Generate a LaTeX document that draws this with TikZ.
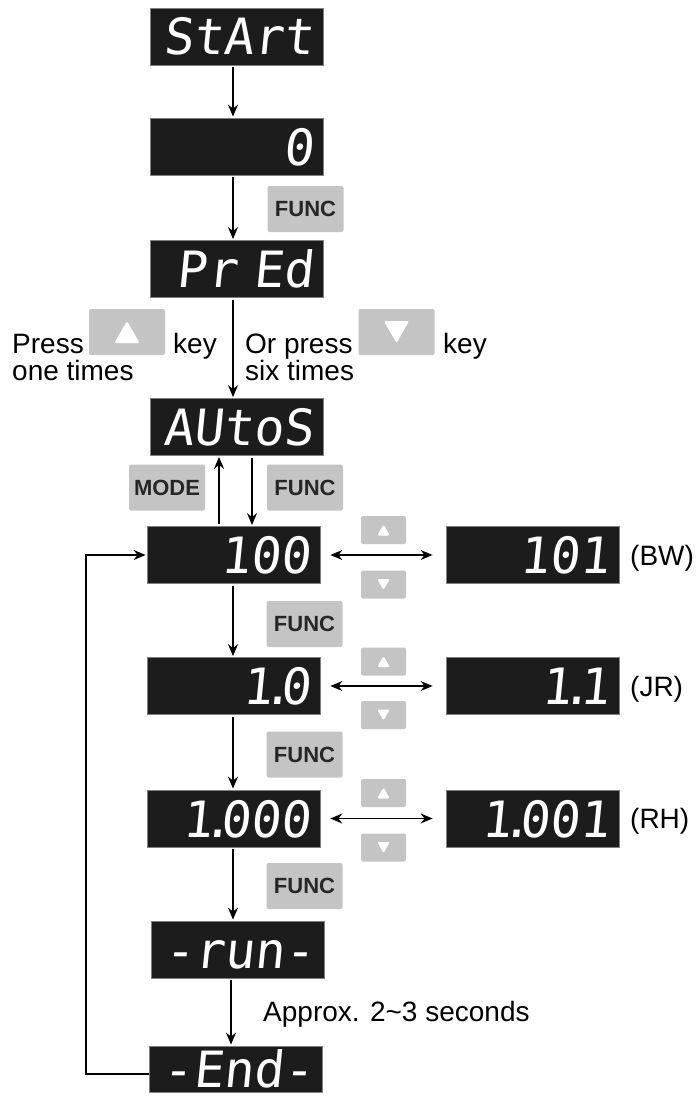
\documentclass[tikz,border=0pt]{standalone}
\usepackage{fontspec}
\setmainfont{Liberation Sans}
\newfontfamily\segfont[FakeSlant=0.1]{DejaVu Sans Mono}
\usetikzlibrary{arrows.meta}
\definecolor{keygray}{HTML}{C4C4C4}
\definecolor{keytext}{HTML}{262626}
\definecolor{dispfill}{HTML}{1C1C1C}
\definecolor{displine}{HTML}{808080}
\newcommand{\dt}{\kern-.2em.\kern-.24em}
\begin{document}
\begin{tikzpicture}[x=1pt,y=-1pt,
  disp/.style={draw=displine, fill=dispfill, line width=0.8pt, inner xsep=9pt,
    text width=155pt, align=right, minimum height=57pt, text height=37pt, text depth=0pt,
    text=white, font=\fontsize{50}{50}\selectfont\segfont},
  keybox/.style={fill=keygray, rounded corners=2pt, inner sep=0pt, text=keytext,
    font=\fontsize{22}{22}\selectfont\bfseries},
  bigkey/.style={keybox, minimum width=76pt, minimum height=46pt},
  smallkey/.style={keybox, minimum width=45pt, minimum height=28pt},
  upkey/.style={path picture={\fill[white] ([shift={(0,-#1)}]path picture bounding box.center) -- ++(1.15*#1,2*#1) -- ++(-2.3*#1,0) -- cycle;}},
  downkey/.style={path picture={\fill[white] ([shift={(0,#1)}]path picture bounding box.center) -- ++(1.15*#1,-2*#1) -- ++(-2.3*#1,0) -- cycle;}},
  lbl/.style={font=\fontsize{28}{28}\selectfont, inner sep=0pt, anchor=base west},
  arr/.style={line width=1.5pt, -{Stealth[length=12pt,width=10pt,inset=4pt]}, shorten <=2pt, shorten >=1pt},
  darr/.style={line width=1.5pt, {Stealth[length=12pt,width=10pt,inset=4pt]}-{Stealth[length=12pt,width=10pt,inset=4pt]}},
]
\useasboundingbox (0,0) rectangle (698,1097);

% displays
\node[disp] (d1) at (236.5,36.5) {StArt};
\node[disp] (d2) at (236.5,146.5) {0};
\node[disp] (d3) at (236.5,269) {Pr Ed};
\node[disp] (d4) at (236.5,427) {AUtoS};
\node[disp] (d5) at (233.5,555) {100};
\node[disp] (d6) at (233.5,686) {1\dt 0};
\node[disp] (d7) at (233.5,818.5) {1\dt 000};
\node[disp] (d8) at (237.5,949.5) {-run-};
\node[disp, minimum height=46pt, inner ysep=4.5pt] (d9) at (236,1069) {-End-};
\node[disp] (r1) at (532.5,555) {101};
\node[disp] (r2) at (532.5,686) {1\dt 1};
\node[disp] (r3) at (532.5,818.5) {1\dt 001};

% keys
\node[bigkey] (f1) at (305.5,209) {FUNC};
\node[bigkey] (mode) at (167,487.5) {MODE};
\node[bigkey] (f2) at (305,487.5) {FUNC};
\node[bigkey] (f3) at (304.5,624) {FUNC};
\node[bigkey] (f4) at (304.5,754.5) {FUNC};
\node[bigkey] (f5) at (304.5,886) {FUNC};
\node[bigkey, upkey=11] (bu) at (127,332) {};
\node[bigkey, downkey=11] (bd) at (396.5,332) {};
\node[smallkey, upkey=5.5] (su1) at (383.5,530) {};
\node[smallkey, downkey=5.5] (sd1) at (383.5,584.5) {};
\node[smallkey, upkey=5.5] (su2) at (383.5,661.5) {};
\node[smallkey, downkey=5.5] (sd2) at (383.5,715) {};
\node[smallkey, upkey=5.5] (su3) at (383.5,793) {};
\node[smallkey, downkey=5.5] (sd3) at (383.5,847.5) {};

% texts
\node[lbl] (t1) at (12,353) {Press};
\node[lbl] (t2) at (173,353) {key};
\node[lbl] (t3) at (12,380) {one times};
\node[lbl] (t4) at (245,353) {Or press};
\node[lbl] (t5) at (443,353) {key};
\node[lbl] (t6) at (245,380) {six times};
\node[lbl] (bw) at (630,565) {(BW)};
\node[lbl] (jr) at (630,696) {(JR)};
\node[lbl] (rh) at (630,828.5) {(RH)};
\node[lbl] (ap) at (263,1021) {Approx. 2\textasciitilde3 seconds};

% x positions of vertical connectors
\coordinate (ax) at (233,0);
\coordinate (bx) at (231,0);
\coordinate (upx) at (219,0);
\coordinate (dnx) at (252,0);
\coordinate (lp) at (86,0);

\draw[arr] (d1.south -| ax) -- (d2.north -| ax);
\draw[arr] (d2.south -| ax) -- (d3.north -| ax);
\draw[arr] (d3.south -| ax) -- (d4.north -| ax);
\draw[arr] (d5.north -| upx) -- (d4.south -| upx);
\draw[arr] (d4.south -| dnx) -- (d5.north -| dnx);
\draw[arr] (d5.south -| ax) -- (d6.north -| ax);
\draw[arr] (d6.south -| ax) -- (d7.north -| ax);
\draw[arr] (d7.south -| ax) -- (d8.north -| ax);
\draw[arr] (d8.south -| bx) -- (d9.north -| bx);

\draw[darr, shorten <=10pt, shorten >=13pt] (d5.east) -- (r1.west);
\draw[darr, shorten <=10pt, shorten >=13pt] (d6.east) -- (r2.west);
\draw[darr, shorten <=10pt, shorten >=13pt] (d7.east) -- (r3.west);

\draw[arr, shorten <=0pt] (d9.west) ++(0,5) -- ++(-63,0) |- (d5.west);
\end{tikzpicture}
\end{document}
